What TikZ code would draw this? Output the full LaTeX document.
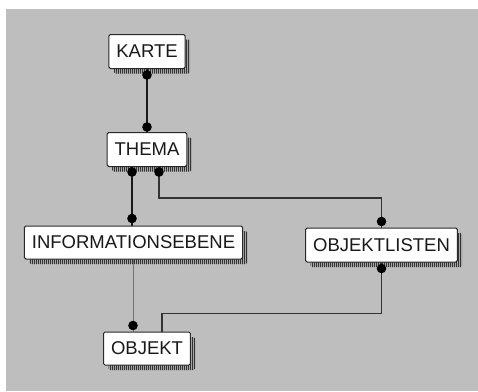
\documentclass[tikz,border=0pt]{standalone}
\usepackage{fontspec}
\setmainfont{Liberation Sans}
\usepackage{xcolor}
\usetikzlibrary{shadows,patterns.meta}

\definecolor{canvas}{RGB}{190,190,190}
\definecolor{frame}{RGB}{40,40,40}

\begin{document}
\begin{tikzpicture}[x=1pt, y=-1pt,
    font=\fontsize{18.5}{20}\selectfont,
    entity/.style={
        rectangle,
        rounded corners=1.5pt,
        draw=frame,
        fill=white,
        line width=1pt,
        text=black!90,
        inner xsep=7.5pt,
        minimum height=34pt,
        general shadow={shadow xshift=5pt, shadow yshift=-5pt, fill=black!35},
        general shadow={shadow xshift=5pt, shadow yshift=-5pt,
            pattern={Lines[angle=90,distance=2pt,line width=1pt]},
            pattern color=black!80}
    },
    link/.style={draw=black!90, line width=2.2pt},
    thinlink/.style={draw=black!80, line width=1.6pt},
    faintlink/.style={draw=black!55, line width=1.2pt},
    knob/.style={fill=black},
    knobsize/.store in=\knobr, knobsize=4.8pt
]

% ===== page and background =====
\useasboundingbox (0,0) rectangle (478,391);
\fill[canvas] (6,9) rectangle (478,391);

% ===== entities =====
\node[entity] (karte) at (147,51.5) {KARTE};
\node[entity] (thema) at (147,149.5) {THEMA};
\node[entity, minimum height=33pt] (info) at (133.5,242.5) {INFORMATIONSEBENE};
\node[entity] (objl) at (381.5,245) {OBJEKTLISTEN};
\node[entity, minimum height=33pt] (objekt) at (147,348.5) {OBJEKT};

% ===== relations =====
\draw[link] (karte.south) -- (thema.north);
\draw[link] ([xshift=-15pt]thema.south) -- ([xshift=-15pt]thema.south |- info.north);
\draw[thinlink] ([xshift=12pt]thema.south) -- ++(0,31) -| (objl.north);
\draw[thinlink] (objl.south) -- ++(0,51) -| ([xshift=15pt]objekt.north);
\draw[faintlink] (info.south) -- (info.south |- objekt.north);

% end knobs
\fill[knob] ([yshift=-6pt]karte.south) circle (\knobr);
\fill[knob] ([yshift=5pt]thema.north) circle (\knobr);
\fill[knob] ([xshift=-15pt,yshift=-5pt]thema.south) circle (\knobr);
\fill[knob] ([xshift=12pt,yshift=-5pt]thema.south) circle (\knobr);
\fill[knob] ([xshift=-1.5pt,yshift=7pt]info.north) circle (\knobr);
\fill[knob] ([yshift=6pt]objl.north) circle (\knobr);
\fill[knob] ([yshift=-6pt]objl.south) circle (\knobr);
\fill[knob] ([xshift=-14pt,yshift=6pt]objekt.north) circle (\knobr);

\end{tikzpicture}
\end{document}
